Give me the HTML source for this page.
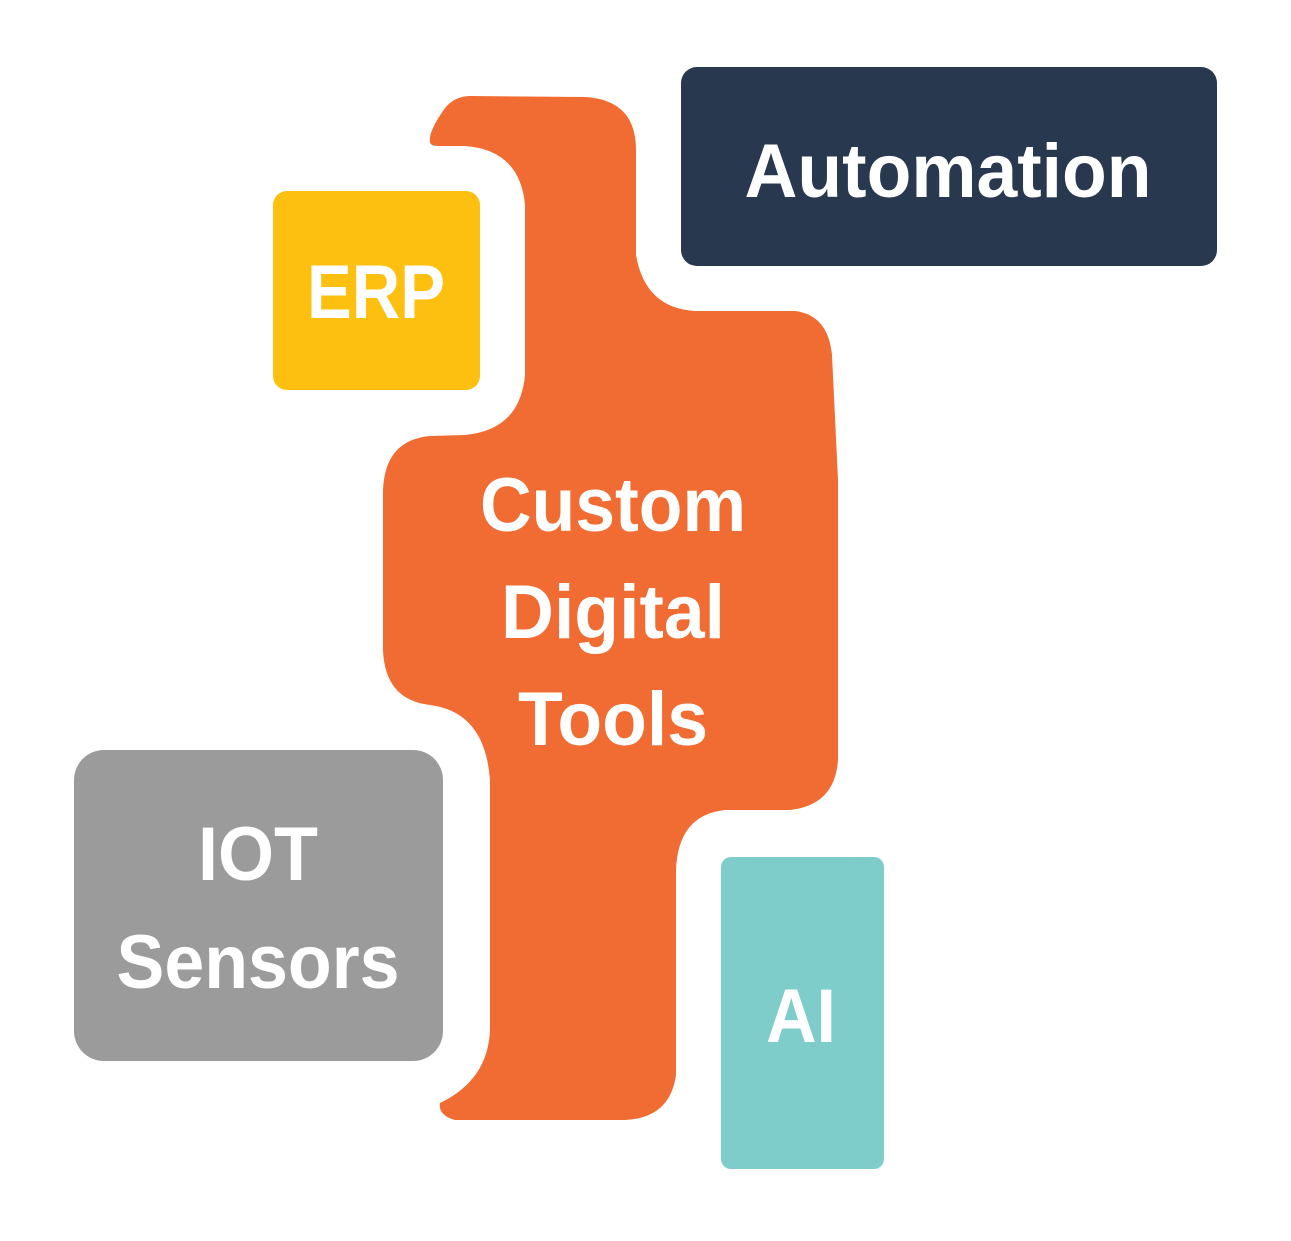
<!DOCTYPE html>
<html><head><style>
html,body{margin:0;padding:0;background:#fff;}
body{width:1291px;height:1241px;position:relative;overflow:hidden;font-family:"Liberation Sans",sans-serif;}
svg{position:absolute;left:0;top:0;}
.t{font-family:"Liberation Sans",sans-serif;font-weight:bold;fill:#fff;text-anchor:middle;}
</style></head><body>
<svg width="1291" height="1241" viewBox="0 0 1291 1241">
<path fill="#F16C32" d="M430,142 Q428,132 445,108 Q455,96 470,96 L585,97 Q636,100 636,150 L636,255 Q645,308 695,311 L795,311 Q828,315 832,355 L838,480 L838,760 Q835,805 790,810 L725,810 Q678,815 676,870 L676,1075 Q670,1118 625,1120 L455,1120 Q438,1115 440,1103 Q488,1080 490,1030 L490,780 Q485,712 430,705 Q385,700 383,650 L383,490 Q385,440 430,436 L465,435 Q520,430 525,375 L525,205 Q520,150 465,146 L440,146 Q430,146 430,142 Z"/>
<rect x="681" y="67" width="536" height="199" rx="16" fill="#28384E"/>
<rect x="273" y="191" width="207" height="199" rx="14" fill="#FDC010"/>
<rect x="74" y="750" width="369" height="311" rx="30" fill="#9B9B9B"/>
<rect x="721" y="857" width="163" height="312" rx="10" fill="#7ECDCB"/>
<text class="t" x="948" y="197" font-size="76" textLength="407" lengthAdjust="spacingAndGlyphs">Automation</text>
<text class="t" x="376" y="318" font-size="76" textLength="138" lengthAdjust="spacingAndGlyphs">ERP</text>
<text class="t" x="613" y="531" font-size="76" textLength="266" lengthAdjust="spacingAndGlyphs">Custom</text>
<text class="t" x="613" y="638" font-size="76" textLength="224" lengthAdjust="spacingAndGlyphs">Digital</text>
<text class="t" x="613" y="745" font-size="76" textLength="190" lengthAdjust="spacingAndGlyphs">Tools</text>
<text class="t" x="258" y="880" font-size="76" textLength="120" lengthAdjust="spacingAndGlyphs">IOT</text>
<text class="t" x="258" y="988" font-size="76" textLength="283" lengthAdjust="spacingAndGlyphs">Sensors</text>
<text class="t" x="801" y="1042" font-size="76" textLength="70" lengthAdjust="spacingAndGlyphs">AI</text>
</svg>
</body></html>
